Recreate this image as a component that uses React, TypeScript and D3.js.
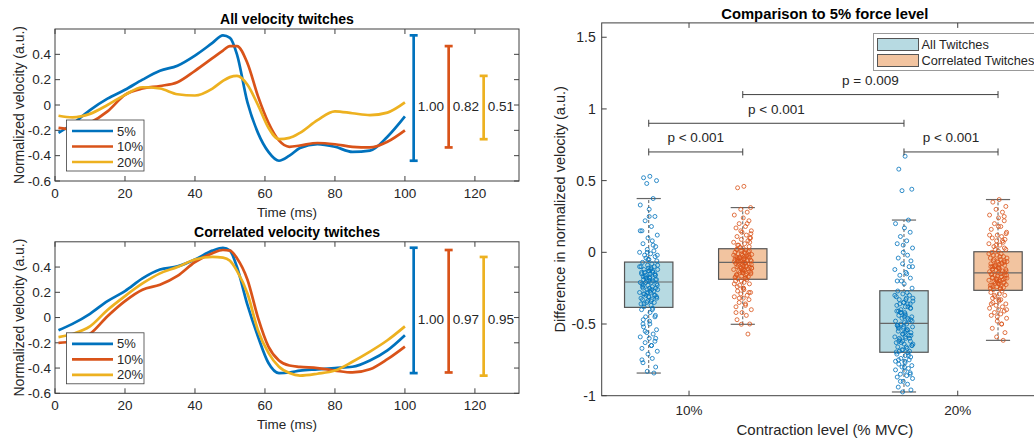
import React, { useEffect, useRef } from 'react';
import * as d3 from 'd3';

// ---- left panels: mean twitch shapes ----
const time = [1, 5, 10, 15, 20, 25, 30, 35, 40, 45, 48, 50, 52, 55, 58, 61, 64, 67, 70, 75, 80, 85, 90, 95, 100];
const levels = ['5%', '10%', '20%'];
const lineColors = ['#0072BD', '#D95319', '#EDB120'];

const all5 = [-0.22, -0.15, -0.04, 0.05, 0.12, 0.2, 0.27, 0.31, 0.39, 0.49, 0.55, 0.53, 0.4, 0.02, -0.22, -0.37, -0.44, -0.4, -0.34, -0.31, -0.33, -0.37, -0.36, -0.25, -0.09];
const all10 = [-0.18, -0.19, -0.14, -0.05, 0.08, 0.13, 0.15, 0.18, 0.27, 0.37, 0.43, 0.465, 0.465, 0.33, 0.07, -0.14, -0.28, -0.33, -0.32, -0.3, -0.31, -0.33, -0.335, -0.29, -0.2];
const all20 = [-0.085, -0.097, -0.07, 0.0, 0.08, 0.14, 0.13, 0.085, 0.075, 0.13, 0.19, 0.22, 0.23, 0.16, 0.0, -0.18, -0.27, -0.26, -0.22, -0.12, -0.05, -0.065, -0.08, -0.06, 0.02];

const corr5 = [-0.1, -0.05, 0.03, 0.13, 0.21, 0.31, 0.38, 0.405, 0.46, 0.53, 0.553, 0.53, 0.4, 0.1, -0.15, -0.36, -0.44, -0.435, -0.42, -0.41, -0.4, -0.39, -0.34, -0.26, -0.14];
const corr10 = [-0.2, -0.19, -0.13, 0.01, 0.13, 0.22, 0.26, 0.33, 0.44, 0.51, 0.535, 0.53, 0.47, 0.3, 0.0, -0.23, -0.34, -0.38, -0.39, -0.4, -0.42, -0.435, -0.41, -0.33, -0.23];
const corr20 = [-0.155, -0.13, -0.07, 0.06, 0.17, 0.27, 0.35, 0.4, 0.46, 0.48, 0.475, 0.45, 0.37, 0.19, -0.1, -0.28, -0.39, -0.44, -0.46, -0.445, -0.42, -0.35, -0.27, -0.18, -0.07];

const allRangeLabels = ['1.00', '0.82', '0.51'];
const corrRangeLabels = ['1.00', '0.97', '0.95'];
const rangeBarX = [102.5, 112.5, 122.5];
const lineXTicks = [0, 20, 40, 60, 80, 100, 120];
const lineYTicks = [-0.6, -0.4, -0.2, 0, 0.2, 0.4];

// ---- right panel: comparison to 5% ----
const categories = ['10%', '20%'];
const groupNames = ['All Twitches', 'Correlated Twitches'];
const groupFill = ['#b7dae2', '#f2c4a0'];
const groupPoint = ['#0072BD', '#D95319'];
const boxPos = [0.85, 1.2, 1.8, 2.15];
const boxGroup = [0, 1, 0, 1];
const boxQ1 = [-0.384, -0.188, -0.697, -0.265];
const boxMed = [-0.207, -0.07, -0.495, -0.144];
const boxQ3 = [-0.068, 0.025, -0.268, 0.004];
const whiskLo = [-0.842, -0.502, -0.974, -0.614];
const whiskHi = [0.375, 0.312, 0.225, 0.368];
const compYTicks = [-1, -0.5, 0, 0.5, 1, 1.5];

const pts10All = [0.53, 0.52, 0.5, 0.48, 0.375, 0.33, 0.3, 0.25, 0.22, 0.18, 0.15, 0.12, 0.1, 0.08, 0.06, 0.04, 0.02, 0.01, 0.0, -0.01, -0.02, -0.03, -0.04, -0.05, -0.06,
  -0.07, -0.08, -0.09, -0.1, -0.1, -0.11, -0.12, -0.12, -0.13, -0.14, -0.14, -0.15, -0.16, -0.16, -0.17, -0.18, -0.18, -0.19, -0.19, -0.2, -0.2, -0.21, -0.13, -0.15, -0.17,
  -0.21, -0.22, -0.23, -0.23, -0.24, -0.25, -0.25, -0.26, -0.27, -0.28, -0.28, -0.29, -0.3, -0.3, -0.31, -0.32, -0.33, -0.33, -0.34, -0.35, -0.36, -0.37, -0.38, -0.26, -0.31,
  -0.39, -0.4, -0.42, -0.44, -0.45, -0.47, -0.48, -0.5, -0.52, -0.54, -0.56, -0.57, -0.59, -0.6, -0.62, -0.63, -0.65, -0.67, -0.69, -0.71, -0.74, -0.77, -0.8, -0.83, -0.842,
  -0.1, -0.12, -0.14, -0.16, -0.18, -0.2, -0.22, -0.24, -0.26, -0.28, -0.3, -0.32, -0.34, -0.36, -0.09, -0.11, -0.13, -0.15, -0.17, -0.19,
  -0.21, -0.23, -0.25, -0.27, -0.29, -0.31, -0.35, 0.05, 0.15, 0.25, -0.45, -0.55, -0.65, -0.75, -0.02, -0.05, -0.4, -0.5, -0.6, 0.0];
const pts10Corr = [0.46, 0.45, 0.312, 0.3, 0.28, 0.26, 0.24, 0.22, 0.2, 0.18, 0.17, 0.15, 0.14, 0.12, 0.11, 0.1, 0.09, 0.08, 0.07, 0.06, 0.05, 0.04, 0.035, 0.03, 0.13,
  0.02, 0.015, 0.01, 0.005, 0.0, -0.005, -0.01, -0.015, -0.02, -0.025, -0.03, -0.03, -0.035, -0.04, -0.04, -0.045, -0.05, -0.05, -0.055, -0.06, -0.06, -0.065, -0.07, -0.02, -0.045,
  -0.075, -0.08, -0.085, -0.09, -0.095, -0.1, -0.105, -0.11, -0.115, -0.12, -0.125, -0.13, -0.135, -0.14, -0.145, -0.15, -0.155, -0.16, -0.165, -0.17, -0.175, -0.18, -0.185, -0.11, -0.14,
  -0.19, -0.2, -0.21, -0.22, -0.23, -0.24, -0.25, -0.26, -0.27, -0.28, -0.29, -0.3, -0.31, -0.32, -0.33, -0.35, -0.37, -0.38, -0.4, -0.42, -0.44, -0.47, -0.5, -0.502, -0.57,
  -0.02, -0.04, -0.06, -0.08, -0.1, -0.12, -0.14, -0.16, -0.18, -0.01, -0.03, -0.05, -0.07, -0.09, -0.11, -0.13, -0.15, -0.17, 0.0, 0.01,
  -0.035, -0.065, -0.095, -0.125, 0.05, 0.1, 0.15, 0.2, -0.22, -0.25, -0.28, -0.32, -0.36, -0.42, -0.06, -0.08, -0.1, 0.02, 0.07, -0.2];
const pts20All = [0.67, 0.58, 0.44, 0.43, 0.225, 0.2, 0.17, 0.14, 0.11, 0.08, 0.06, 0.03, 0.0, -0.02, -0.04, -0.06, -0.08, -0.1, -0.12, -0.14, -0.16, -0.18, -0.2, -0.22, -0.25,
  -0.27, -0.28, -0.29, -0.3, -0.31, -0.32, -0.33, -0.34, -0.35, -0.36, -0.37, -0.38, -0.39, -0.4, -0.41, -0.42, -0.43, -0.44, -0.45, -0.46, -0.47, -0.48, -0.49, -0.36, -0.42,
  -0.5, -0.51, -0.52, -0.53, -0.54, -0.55, -0.56, -0.57, -0.58, -0.59, -0.6, -0.61, -0.62, -0.63, -0.64, -0.65, -0.66, -0.67, -0.68, -0.69, -0.695, -0.55, -0.6, -0.64, -0.52,
  -0.7, -0.71, -0.72, -0.73, -0.74, -0.75, -0.76, -0.77, -0.78, -0.79, -0.8, -0.81, -0.82, -0.83, -0.84, -0.85, -0.86, -0.87, -0.88, -0.9, -0.92, -0.94, -0.96, -0.974, -0.75,
  -0.3, -0.33, -0.36, -0.39, -0.42, -0.45, -0.48, -0.51, -0.54, -0.57, -0.6, -0.63, -0.66, -0.69, -0.32, -0.35, -0.38, -0.41, -0.44, -0.47,
  -0.5, -0.53, -0.56, -0.59, -0.62, -0.65, -0.68, -0.72, -0.76, -0.8, -0.85, -0.9, -0.15, -0.2, -0.1, 0.05, -0.46, -0.52, -0.58, -0.62];
const pts20Corr = [0.368, 0.35, 0.32, 0.3, 0.28, 0.26, 0.24, 0.22, 0.2, 0.18, 0.16, 0.14, 0.12, 0.11, 0.1, 0.09, 0.08, 0.07, 0.06, 0.05, 0.04, 0.03, 0.02, 0.01, 0.13,
  0.0, -0.01, -0.02, -0.03, -0.04, -0.05, -0.06, -0.065, -0.07, -0.075, -0.08, -0.085, -0.09, -0.095, -0.1, -0.105, -0.11, -0.115, -0.12, -0.125, -0.13, -0.135, -0.14, -0.06, -0.1,
  -0.15, -0.155, -0.16, -0.165, -0.17, -0.175, -0.18, -0.185, -0.19, -0.195, -0.2, -0.205, -0.21, -0.215, -0.22, -0.225, -0.23, -0.235, -0.24, -0.245, -0.25, -0.255, -0.26, -0.18, -0.21,
  -0.27, -0.28, -0.29, -0.3, -0.31, -0.32, -0.33, -0.34, -0.35, -0.36, -0.37, -0.38, -0.39, -0.4, -0.41, -0.42, -0.43, -0.44, -0.46, -0.48, -0.5, -0.53, -0.56, -0.59, -0.614,
  -0.01, -0.03, -0.05, -0.07, -0.09, -0.11, -0.13, -0.15, -0.17, -0.19, -0.21, -0.23, -0.25, -0.02, -0.04, -0.06, -0.08, -0.1, -0.12, -0.14,
  -0.16, -0.18, -0.2, -0.22, -0.24, 0.02, 0.05, 0.08, 0.12, 0.18, 0.25, -0.3, -0.33, -0.36, -0.4, -0.45, -0.5, -0.12, -0.16, -0.2];
const boxPoints = [pts10All, pts10Corr, pts20All, pts20Corr];
// fixed horizontal spread for the scattered dots (fraction of jitter width)
const jitter = [0.12, -0.55, 0.83, -0.21, 0.47, -0.9, 0.05, 0.66, -0.38, 0.29, -0.72, 0.91, -0.08, 0.38, -0.61, 0.74, -0.15, 0.55, -0.97, 0.2,
  -0.44, 0.68, -0.29, 0.02, 0.86, -0.66, 0.33, -0.12, 0.59, -0.82, 0.25, -0.5, 0.95, -0.03, 0.42, -0.76, 0.14, 0.71, -0.33, -0.58, 0.08];

const sigFrom = [0.85, 0.85, 1.2, 1.8];
const sigTo = [1.2, 1.8, 2.15, 2.15];
const sigLevel = [0.7, 0.9, 1.1, 0.7];
const sigLabel = ['p < 0.001', 'p < 0.001', 'p = 0.009', 'p < 0.001'];

const AXIS = '#404040';
const TEXT = '#262626';
const FONT = '"Liberation Sans", Arial, Helvetica, sans-serif';

function drawLinePanel(svg: any, top: number, bottom: number, title: string, series: number[][], rangeLabels: string[]) {
  const x = d3.scaleLinear().domain([0, 132.6]).range([55, 519]);
  const y = d3.scaleLinear().domain([-0.6, 0.6]).range([bottom, top]);
  const g = svg.append('g');
  const [x0, x1] = x.range();

  // ticks (inward on all four sides)
  lineXTicks.forEach(t => {
    g.append('line').attr('x1', x(t)).attr('x2', x(t)).attr('y1', bottom).attr('y2', bottom - 5).attr('stroke', AXIS);
    g.append('line').attr('x1', x(t)).attr('x2', x(t)).attr('y1', top).attr('y2', top + 5).attr('stroke', AXIS);
    g.append('text').attr('x', x(t)).attr('y', bottom + 12).attr('dy', '.35em').attr('text-anchor', 'middle')
      .attr('font-size', 13.5).attr('fill', TEXT).text(t);
  });
  lineYTicks.forEach(t => {
    g.append('line').attr('x1', x0).attr('x2', x0 + 5).attr('y1', y(t)).attr('y2', y(t)).attr('stroke', AXIS);
    g.append('line').attr('x1', x1).attr('x2', x1 - 5).attr('y1', y(t)).attr('y2', y(t)).attr('stroke', AXIS);
    g.append('text').attr('x', x0 - 4).attr('y', y(t)).attr('dy', '.35em').attr('text-anchor', 'end')
      .attr('font-size', 13.5).attr('fill', TEXT).text(String(+t.toFixed(1)));
  });
  g.append('rect').attr('x', x0).attr('y', top).attr('width', x1 - x0).attr('height', bottom - top)
    .attr('fill', 'none').attr('stroke', AXIS).attr('stroke-width', 1);

  const line = d3.line<number>().x((_, i) => x(time[i])).y(d => y(d)).curve(d3.curveMonotoneX);
  series.forEach((s, i) => {
    g.append('path').attr('d', line(s)).attr('fill', 'none').attr('stroke', lineColors[i]).attr('stroke-width', 2.7);
  });

  // range bars with ratio labels
  series.forEach((s, i) => {
    const [lo, hi] = d3.extent(s) as [number, number];
    const bx = x(rangeBarX[i]);
    g.append('line').attr('x1', bx).attr('x2', bx).attr('y1', y(lo)).attr('y2', y(hi)).attr('stroke', lineColors[i]).attr('stroke-width', 2.7);
    [lo, hi].forEach(v => {
      g.append('line').attr('x1', bx - 4).attr('x2', bx + 4).attr('y1', y(v)).attr('y2', y(v)).attr('stroke', lineColors[i]).attr('stroke-width', 2.7);
    });
    g.append('text').attr('x', bx + 4).attr('y', y(0) + 1.5).attr('dy', '.35em').attr('font-size', 13.5)
      .attr('fill', TEXT).text(rangeLabels[i]);
  });

  // legend
  const ly = top + 91;
  g.append('rect').attr('x', 66.5).attr('y', ly).attr('width', 77.5).attr('height', 51)
    .attr('fill', 'white').attr('stroke', AXIS).attr('stroke-width', 0.8);
  levels.forEach((lv, i) => {
    const ry = ly + 11 + i * 15.5;
    g.append('line').attr('x1', 72).attr('x2', 113).attr('y1', ry).attr('y2', ry).attr('stroke', lineColors[i]).attr('stroke-width', 2.7);
    g.append('text').attr('x', 117).attr('y', ry).attr('dy', '.35em').attr('font-size', 13).attr('fill', TEXT).text(lv);
  });

  const cx = (x0 + x1) / 2;
  g.append('text').attr('x', cx).attr('y', top - 10).attr('dy', '.35em').attr('text-anchor', 'middle')
    .attr('font-size', 14).attr('font-weight', 'bold').attr('fill', '#000').text(title);
  g.append('text').attr('x', cx).attr('y', bottom + 31).attr('dy', '.35em').attr('text-anchor', 'middle')
    .attr('font-size', 13.5).attr('fill', TEXT).text('Time (ms)');
  g.append('text').attr('transform', `translate(19,${(top + bottom) / 2}) rotate(-90)`).attr('dy', '.35em')
    .attr('text-anchor', 'middle').attr('font-size', 14).attr('fill', TEXT).text('Normalized velocity (a.u.)');
}

function drawComparison(svg: any) {
  const x = d3.scaleLinear().domain([0.675, 2.336]).range([601.7, 1048]);
  const y = d3.scaleLinear().domain([-1, 1.6]).range([395.7, 22.9]);
  const g = svg.append('g');
  const [x0, x1] = x.range();
  const [yb, yt] = y.range();
  const bw = x(0.18) - x(0);

  categories.forEach((c, i) => {
    const t = i + 1;
    g.append('line').attr('x1', x(t)).attr('x2', x(t)).attr('y1', yb).attr('y2', yb - 5).attr('stroke', AXIS);
    g.append('line').attr('x1', x(t)).attr('x2', x(t)).attr('y1', yt).attr('y2', yt + 5).attr('stroke', AXIS);
    g.append('text').attr('x', x(t)).attr('y', yb + 15).attr('dy', '.35em').attr('text-anchor', 'middle')
      .attr('font-size', 13.5).attr('fill', TEXT).text(c);
  });
  compYTicks.forEach(t => {
    g.append('line').attr('x1', x0).attr('x2', x0 + 5).attr('y1', y(t)).attr('y2', y(t)).attr('stroke', AXIS);
    g.append('text').attr('x', x0 - 6).attr('y', y(t)).attr('dy', '.35em').attr('text-anchor', 'end')
      .attr('font-size', 14).attr('fill', TEXT).text(String(t));
  });
  g.append('rect').attr('x', x0).attr('y', yt).attr('width', x1 - x0).attr('height', yb - yt)
    .attr('fill', 'none').attr('stroke', AXIS).attr('stroke-width', 1);

  // boxes
  boxPos.forEach((p, i) => {
    const cx = x(p);
    g.append('line').attr('x1', cx).attr('x2', cx).attr('y1', y(whiskLo[i])).attr('y2', y(whiskHi[i]))
      .attr('stroke', '#333').attr('stroke-width', 0.8).attr('stroke-dasharray', '3,2');
    [whiskLo[i], whiskHi[i]].forEach(v => {
      g.append('line').attr('x1', cx - bw / 4).attr('x2', cx + bw / 4).attr('y1', y(v)).attr('y2', y(v))
        .attr('stroke', '#666').attr('stroke-width', 1.2);
    });
    g.append('rect').attr('x', cx - bw / 2).attr('y', y(boxQ3[i])).attr('width', bw).attr('height', y(boxQ1[i]) - y(boxQ3[i]))
      .attr('fill', groupFill[boxGroup[i]]).attr('stroke', '#555').attr('stroke-width', 1.2);
    g.append('line').attr('x1', cx - bw / 2).attr('x2', cx + bw / 2).attr('y1', y(boxMed[i])).attr('y2', y(boxMed[i]))
      .attr('stroke', '#666').attr('stroke-width', 1.2);
  });

  // scattered observations
  boxPos.forEach((p, i) => {
    g.selectAll(null)
      .data(boxPoints[i])
      .enter()
      .append('circle')
      .attr('cx', (_: number, k: number) => x(p + jitter[k % jitter.length] * 0.035))
      .attr('cy', (d: number) => y(d))
      .attr('r', 2)
      .attr('fill', 'none')
      .attr('stroke', groupPoint[boxGroup[i]])
      .attr('stroke-width', 0.8);
  });

  // significance brackets
  sigLevel.forEach((lv, i) => {
    const ya = y(lv);
    g.append('line').attr('x1', x(sigFrom[i])).attr('x2', x(sigTo[i])).attr('y1', ya).attr('y2', ya).attr('stroke', AXIS).attr('stroke-width', 1);
    [sigFrom[i], sigTo[i]].forEach(v => {
      g.append('line').attr('x1', x(v)).attr('x2', x(v)).attr('y1', ya - 3.5).attr('y2', ya + 3.5).attr('stroke', AXIS).attr('stroke-width', 1);
    });
    g.append('text').attr('x', (x(sigFrom[i]) + x(sigTo[i])) / 2).attr('y', y(lv + 0.1)).attr('dy', '.35em')
      .attr('text-anchor', 'middle').attr('font-size', 13.5).attr('fill', TEXT).text(sigLabel[i]);
  });

  // legend
  g.append('rect').attr('x', 873.5).attr('y', 33.5).attr('width', 170).attr('height', 37)
    .attr('fill', 'white').attr('stroke', '#999').attr('stroke-width', 1);
  groupNames.forEach((n, i) => {
    const ry = 38.5 + i * 16;
    g.append('rect').attr('x', 877.5).attr('y', ry).attr('width', 41).attr('height', 12)
      .attr('fill', groupFill[i]).attr('stroke', '#555').attr('stroke-width', 1);
    g.append('text').attr('x', 921.5).attr('y', ry + 6).attr('dy', '.35em').attr('font-size', 12.8).attr('fill', TEXT).text(n);
  });

  const cx = (x0 + x1) / 2;
  g.append('text').attr('x', cx).attr('y', 14).attr('dy', '.35em').attr('text-anchor', 'middle')
    .attr('font-size', 14.8).attr('font-weight', 'bold').attr('fill', '#000').text('Comparison to 5% force level');
  g.append('text').attr('x', cx).attr('y', 430).attr('dy', '.35em').attr('text-anchor', 'middle')
    .attr('font-size', 15).attr('fill', TEXT).text('Contraction level (% MVC)');
  g.append('text').attr('transform', `translate(560,${(yt + yb) / 2}) rotate(-90)`).attr('dy', '.35em')
    .attr('text-anchor', 'middle').attr('font-size', 14.5).attr('fill', TEXT).text('Difference in normalized velocity (a.u.)');
}

export default function App() {
  const ref = useRef<SVGSVGElement>(null);

  useEffect(() => {
    const svg = d3.select(ref.current);
    svg.selectAll('*').remove();
    drawLinePanel(svg, 29, 181, 'All velocity twitches', [all5, all10, all20], allRangeLabels);
    drawLinePanel(svg, 241.8, 393.3, 'Correlated velocity twitches', [corr5, corr10, corr20], corrRangeLabels);
    drawComparison(svg);
  }, []);

  return (
    <svg
      ref={ref}
      width={1034}
      height={439}
      style={{ position: 'absolute', left: 0, top: 0, background: 'white', fontFamily: FONT, overflow: 'hidden' }}
    />
  );
}
